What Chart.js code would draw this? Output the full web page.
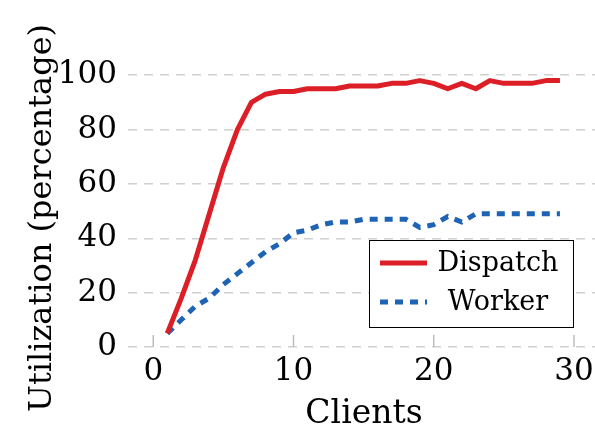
<!DOCTYPE html>
<html>
<head>
<meta charset="utf-8">
<script src="https://cdn.jsdelivr.net/npm/chart.js@4.4.1/dist/chart.umd.min.js"></script>
<style>
  html, body { margin: 0; padding: 0; background: #fff; }
  #wrap { width: 595px; height: 426px; }
</style>
</head>
<body>
<div id="wrap"><canvas id="chart" width="595" height="426"></canvas></div>
<script>
// datos
const clients = [1, 2, 3, 4, 5, 6, 7, 8, 9, 10, 11, 12, 13, 14, 15, 16, 17, 18, 19, 20, 21, 22, 23, 24, 25, 26, 27, 28, 29];
const dispatch = [5, 18, 32, 49, 66, 80, 90, 93, 94, 94, 95, 95, 95, 96, 96, 96, 97, 97, 98, 97, 95, 97, 95, 98, 97, 97, 97, 98, 98];
const worker = [5, 10, 15, 18, 23, 27, 31, 35, 38, 42, 43, 45, 46, 46, 47, 47, 47, 47, 44, 45, 48, 46, 49, 49, 49, 49, 49, 49, 49];
const xTicks = [0, 10, 20, 30];
const yTicks = [0, 20, 40, 60, 80, 100];

const RED = '#dc1f26';
const BLUE = '#1f63b4';
const FONT = "'DejaVu Serif', serif";

const toPoints = ys => clients.map((c, i) => ({ x: c, y: ys[i] }));

// marcas verticales del eje x (hacia dentro)
const xTickMarks = {
    id: 'xTickMarks',
    afterDatasetsDraw(chart) {
        const { ctx, scales: { x, y } } = chart;
        const y0 = y.getPixelForValue(0);
        ctx.save();
        ctx.strokeStyle = '#bdbdbd';
        ctx.lineWidth = 1.5;
        xTicks.forEach(t => {
            const px = x.getPixelForValue(t);
            ctx.beginPath();
            ctx.moveTo(px, y0);
            ctx.lineTo(px, y0 - 12);
            ctx.stroke();
        });
        ctx.restore();
    }
};

// títulos de ejes a mano para controlar la posición
const axisTitles = {
    id: 'axisTitles',
    afterDraw(chart) {
        const { ctx } = chart;
        ctx.save();
        ctx.fillStyle = '#000';
        ctx.textAlign = 'center';
        ctx.textBaseline = 'alphabetic';
        ctx.font = '33px ' + FONT;
        ctx.fillText('Clients', 364, 423);
        ctx.translate(51, 218);
        ctx.rotate(-Math.PI / 2);
        ctx.font = '32px ' + FONT;
        ctx.fillText('Utilization (percentage)', 0, 0);
        ctx.restore();
    }
};

// leyenda dentro del área, estilo pgfplots
const boxLegend = {
    id: 'boxLegend',
    afterDraw(chart) {
        const { ctx, chartArea } = chart;
        const left = chartArea.right - 226, top = chartArea.top + 192;
        const w = 204, h = 87;
        ctx.save();
        ctx.fillStyle = '#fff';
        ctx.fillRect(left, top, w, h);
        ctx.strokeStyle = '#000';
        ctx.lineWidth = 1;
        ctx.strokeRect(left + 0.5, top + 0.5, w, h);
        ctx.font = '27px ' + FONT;
        ctx.fillStyle = '#000';
        ctx.textAlign = 'center';
        ctx.textBaseline = 'middle';
        const rows = [
            { label: 'Dispatch', color: RED, dash: [], dy: 23 },
            { label: 'Worker', color: BLUE, dash: [8, 7], dy: 62 }
        ];
        rows.forEach(r => {
            ctx.beginPath();
            ctx.setLineDash(r.dash);
            ctx.strokeStyle = r.color;
            ctx.lineWidth = 5;
            ctx.moveTo(left + 11, top + r.dy);
            ctx.lineTo(left + 58, top + r.dy);
            ctx.stroke();
            ctx.setLineDash([]);
            ctx.fillText(r.label, left + 129, top + r.dy + 1);
        });
        ctx.restore();
    }
};

new Chart(document.getElementById('chart'), {
    type: 'line',
    data: {
        datasets: [
            { label: 'Dispatch', data: toPoints(dispatch), borderColor: RED, borderWidth: 5, pointRadius: 0, tension: 0, borderJoinStyle: 'round' },
            { label: 'Worker', data: toPoints(worker), borderColor: BLUE, borderWidth: 5, borderDash: [8, 7], pointRadius: 0, tension: 0 }
        ]
    },
    options: {
        responsive: false,
        animation: false,
        layout: { padding: { top: 48, right: 0, left: 0, bottom: 0 } },
        plugins: { legend: { display: false }, tooltip: { enabled: false } },
        scales: {
            x: {
                type: 'linear',
                min: -1.8,
                max: 31.5,
                afterBuildTicks: s => { s.ticks = xTicks.map(v => ({ value: v })); },
                afterFit: s => { s.height = 79; s.paddingLeft = 0; s.paddingRight = 0; },
                grid: { display: false, drawTicks: false },
                border: { display: false },
                ticks: { color: '#000', font: { family: FONT, size: 31 }, padding: 6, maxRotation: 0 },
                title: { display: false }
            },
            y: {
                min: 0,
                max: 110,
                afterBuildTicks: s => { s.ticks = yTicks.map(v => ({ value: v })); },
                afterFit: s => { s.width = 128; s.paddingTop = 0; s.paddingBottom = 0; },
                grid: { color: '#cfcfcf', lineWidth: 1.5, drawTicks: false },
                border: { display: false, dash: [9, 7] },
                ticks: { color: '#000', font: { family: FONT, size: 31 }, padding: 11 },
                title: { display: false }
            }
        }
    },
    plugins: [xTickMarks, axisTitles, boxLegend]
});
</script>
</body>
</html>
